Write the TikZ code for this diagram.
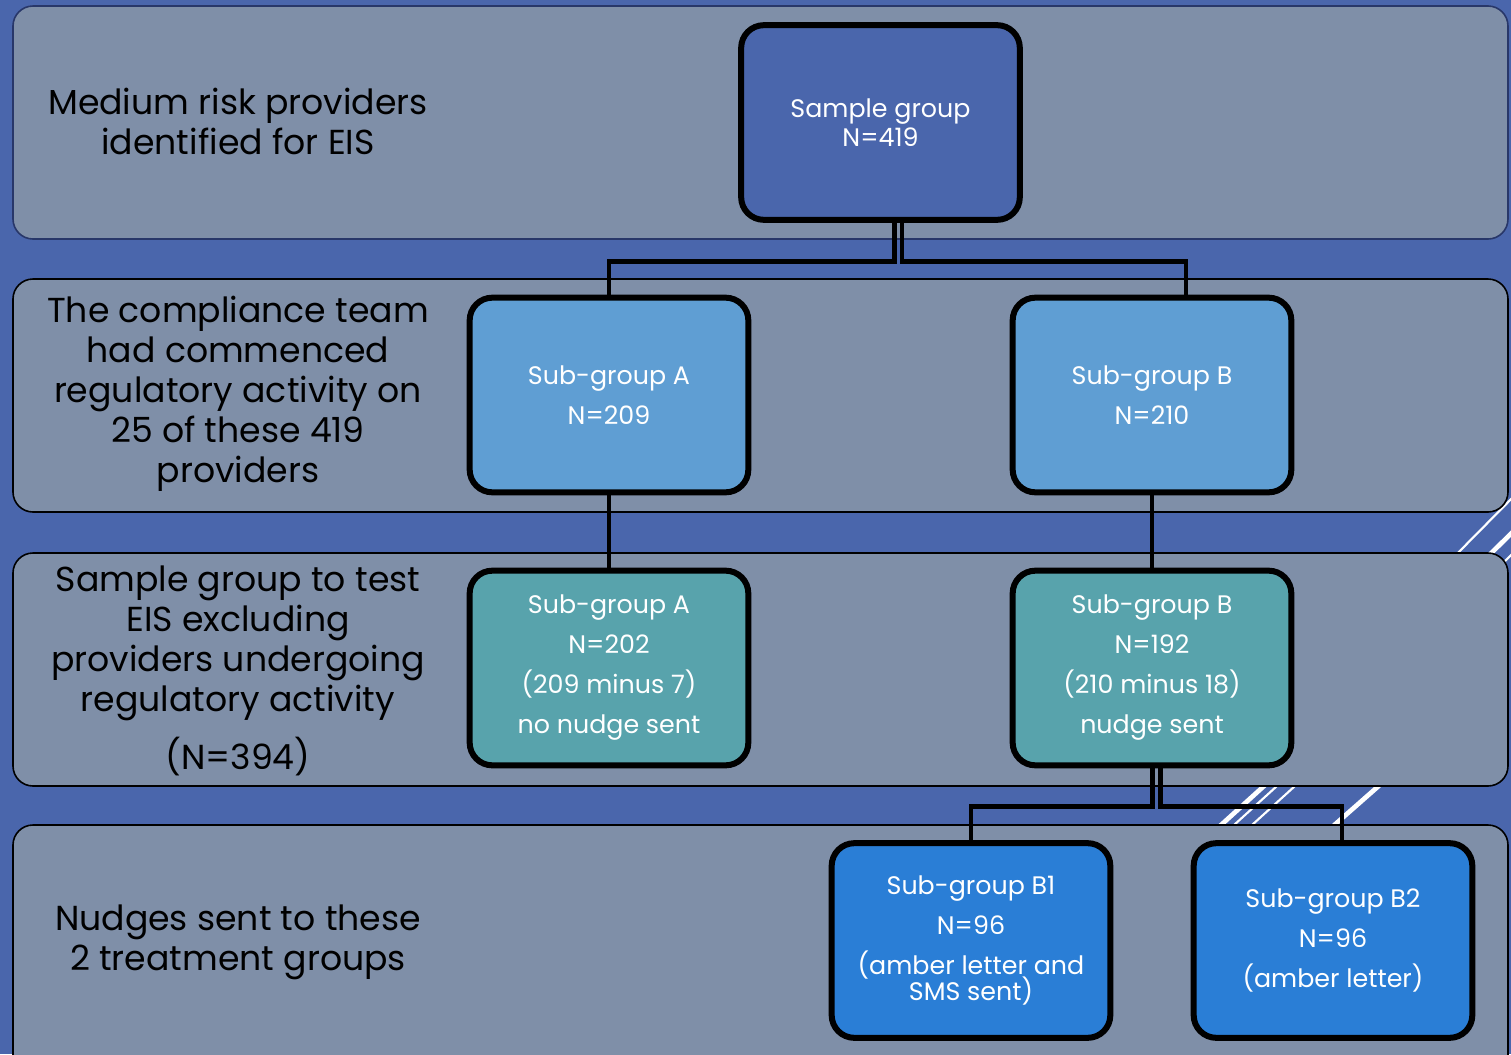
\documentclass[tikz,border=0pt]{standalone}
\usepackage{fontspec}
\setmainfont{Poppins}
\usetikzlibrary{calc}
\definecolor{bgblue}{RGB}{74,102,172}
\definecolor{bandgrey}{RGB}{127,143,168}
\definecolor{bandnavy}{RGB}{40,55,105}
\definecolor{lightblue}{RGB}{95,158,211}
\definecolor{tealbox}{RGB}{88,163,172}
\definecolor{brightblue}{RGB}{42,126,214}
\tikzset{
  band/.style={fill=bandgrey, draw=black, line width=1.2pt, rounded corners=15pt},
  lefttext/.style={align=center, text=black, font=\fontsize{26}{30}\selectfont},
  box/.style={draw=black, line width=4.5pt, rounded corners=17pt, minimum width=209pt, minimum height=146pt, text=white, align=center, inner sep=0pt, font=\fontsize{19}{30}\selectfont},
  conn/.style={draw=black, line width=3.6pt},
  slashthick/.style={draw=white, line width=3.5pt},
  slashthin/.style={draw=white, line width=1.6pt}
}
\begin{document}
\begin{tikzpicture}[x=0.75pt, y=-0.75pt]
\useasboundingbox (0,0) rectangle (1511,1054);
\clip (0,0) rectangle (1511,1054);
\fill[bgblue] (0,0) rectangle (1511,1054);
% decorative slashes
\draw[slashthin] (1445,566) -- (1525,485);
\draw[slashthick] (1478,566) -- (1525,520);
\draw[slashthin] (1500,566) -- (1525,541);
\draw[slashthick] (1210,835) -- (1275,776);
\draw[slashthin] (1223,835) -- (1288,776);
\draw[slashthin] (1241,835) -- (1306,776);
\draw[slashthick] (1323,835) -- (1390,776);
% bands
\draw[band, draw=bandnavy] (13,6) rectangle (1508,239);
\draw[band] (13,279) rectangle (1508,512);
\draw[band] (13,553) rectangle (1508,786);
\draw[band] (13,825) rectangle (1508,1090);
% left texts
\node[lefttext] (t1) at (238,121) {Medium risk providers\\identified for EIS};
\node[lefttext] (t2) at (238,394) {The compliance team\\had commenced\\regulatory activity on\\25 of these 419\\providers};
\node[lefttext] (t3) at (238,643) {Sample group to test\\EIS excluding\\providers undergoing\\regulatory activity};
\node[lefttext] (t3b) at (238,757) {(N=394)};
\node[lefttext] (t4) at (238,942) {Nudges sent to these\\2 treatment groups};
% boxes
\node[box, fill=bgblue, font=\fontsize{19}{22}\selectfont] (S) at (880.5,122.5) {Sample group\\N=419};
\node[box, fill=lightblue] (A1) at (609,395) {Sub-group A\\N=209};
\node[box, fill=lightblue] (B1r) at (1152,395) {Sub-group B\\N=210};
\node[box, fill=tealbox] (A2) at (609,668) {Sub-group A\\N=202\\(209 minus 7)\\no nudge sent};
\node[box, fill=tealbox] (B2r) at (1152,668) {Sub-group B\\N=192\\(210 minus 18)\\nudge sent};
\node[box, fill=brightblue] (BB1) at (971,940.5) {Sub-group B1\\N=96\\(amber letter and\\[-10pt]SMS sent)};
\node[box, fill=brightblue] (BB2) at (1333,940.5) {Sub-group B2\\N=96\\(amber letter)};
% connectors
\draw[conn] ($(S.south)+(14,0)$) -- ++(0,39) -| (A1.north);
\draw[conn] ($(S.south)+(21.5,0)$) -- ++(0,39) -| ($(B1r.north)+(34,0)$);
\draw[conn] (A1.south) -- (A2.north);
\draw[conn] (B1r.south) -- (B2r.north);
\draw[conn] ($(B2r.south)+(0.5,0)$) -- ++(0,38) -| (BB1.north);
\draw[conn] ($(B2r.south)+(8.5,0)$) -- ++(0,38) -| ($(BB2.north)+(9,0)$);
\end{tikzpicture}
\end{document}
